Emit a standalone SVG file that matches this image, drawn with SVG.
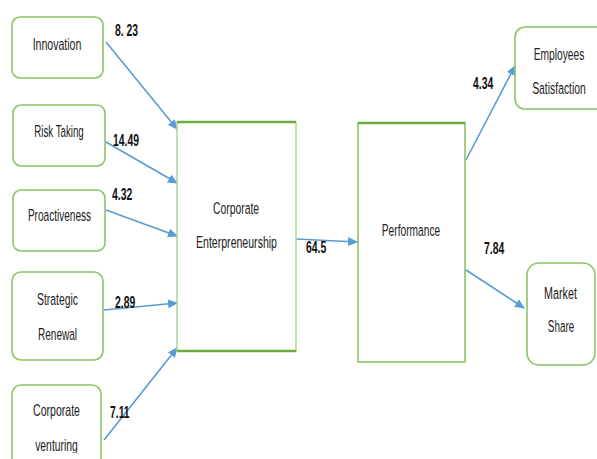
<svg xmlns="http://www.w3.org/2000/svg" width="597" height="459" viewBox="0 0 597 459">
  <style>
    .box { fill: #ffffff; stroke: #8cc466; stroke-width: 1.6; }
    .big { fill: #ffffff; stroke: #a8d48a; stroke-width: 1.4; }
    .top { stroke: #6aae3e; stroke-width: 2.6; fill: none; }
    .lbl { font-family: "Liberation Sans", Arial, sans-serif; font-size: 16.5px; fill: #222222; text-anchor: middle; }
    .num { font-family: "Liberation Sans", Arial, sans-serif; font-size: 16px; font-weight: bold; fill: #111111; }
    .edge { stroke: #5b9bd5; stroke-width: 1.6; fill: none; marker-end: url(#arrow); }
  </style>
  <defs>
    <marker id="arrow" markerUnits="userSpaceOnUse" markerWidth="10" markerHeight="10" refX="9" refY="5" orient="auto">
      <path d="M0,0.5 L10,5 L0,9.5 Z" fill="#5b9bd5"/>
    </marker>
    <clipPath id="cutBottom">
      <rect x="-100" y="-20" width="200" height="22"/>
    </clipPath>
  </defs>
  <rect width="597" height="459" fill="#ffffff"/>

  <g id="connectors">
    <line class="edge" x1="106" y1="42" x2="177" y2="129"/>
    <line class="edge" x1="106" y1="142" x2="177" y2="183"/>
    <line class="edge" x1="106" y1="210" x2="177" y2="236"/>
    <line class="edge" x1="104" y1="310" x2="177" y2="303"/>
    <line class="edge" x1="104" y1="440" x2="177" y2="348"/>
    <line class="edge" x1="296" y1="239" x2="357" y2="242"/>
    <line class="edge" x1="466" y1="160" x2="515" y2="66"/>
    <line class="edge" x1="466" y1="270" x2="524" y2="308"/>
  </g>

  <!-- labels use a narrow horizontal scale to get a condensed face -->
  <g id="innovation">
    <rect class="box" x="12" y="17" width="91" height="61" rx="8"/>
    <text class="lbl" transform="translate(57,50) scale(0.64,1)">Innovation</text>
  </g>
  <g id="risk-taking">
    <rect class="box" x="13" y="105" width="92" height="61" rx="8"/>
    <text class="lbl" transform="translate(59,137) scale(0.59,1)">Risk Taking</text>
  </g>
  <g id="proactiveness">
    <rect class="box" x="13" y="190" width="92" height="61" rx="8"/>
    <text class="lbl" transform="translate(59.5,221) scale(0.61,1)">Proactiveness</text>
  </g>
  <g id="strategic-renewal">
    <rect class="box" x="12" y="272" width="91" height="88" rx="9"/>
    <text class="lbl" transform="translate(57.5,305) scale(0.63,1)">Strategic</text>
    <text class="lbl" transform="translate(57.5,340) scale(0.61,1)">Renewal</text>
  </g>
  <g id="corporate-venturing">
    <rect class="box" x="12" y="385" width="89" height="90" rx="9"/>
    <text class="lbl" transform="translate(56.5,416) scale(0.64,1)">Corporate</text>
    <text class="lbl" transform="translate(56.5,451) scale(0.63,1)" clip-path="url(#cutBottom)">venturing</text>
  </g>

  <g id="corporate-entrepreneurship">
    <rect class="big" x="177" y="122" width="119" height="229"/>
    <line class="top" x1="177" y1="122" x2="296" y2="122"/>
    <line class="top" x1="177" y1="351" x2="296" y2="351"/>
    <text class="lbl" transform="translate(236,214) scale(0.63,1)">Corporate</text>
    <text class="lbl" transform="translate(236.5,248) scale(0.64,1)">Enterpreneurship</text>
  </g>
  <g id="performance">
    <rect class="box" x="358" y="123" width="107" height="239"/>
    <line class="top" x1="358" y1="123" x2="465" y2="123"/>
    <text class="lbl" transform="translate(411,236) scale(0.62,1)">Performance</text>
  </g>
  <g id="employees-satisfaction">
    <rect class="box" x="515" y="27" width="100" height="82" rx="10"/>
    <text class="lbl" transform="translate(559,60) scale(0.62,1)">Employees</text>
    <text class="lbl" transform="translate(559,94) scale(0.63,1)">Satisfaction</text>
  </g>
  <g id="market-share">
    <rect class="box" x="527" y="263" width="68" height="102" rx="12"/>
    <text class="lbl" transform="translate(560.5,299) scale(0.65,1)">Market</text>
    <text class="lbl" transform="translate(561,332) scale(0.6,1)">Share</text>
  </g>

  <g id="weights">
    <text class="num" transform="translate(115,36) scale(0.65,1)">8. 23</text>
    <text class="num" transform="translate(113,146) scale(0.65,1)">14.49</text>
    <text class="num" transform="translate(112,200) scale(0.65,1)">4.32</text>
    <text class="num" transform="translate(115,308) scale(0.65,1)">2.89</text>
    <text class="num" transform="translate(110,418) scale(0.65,1)">7.11</text>
    <text class="num" transform="translate(306,253) scale(0.65,1)">64.5</text>
    <text class="num" transform="translate(473,89) scale(0.65,1)">4.34</text>
    <text class="num" transform="translate(484,254) scale(0.65,1)">7.84</text>
  </g>
</svg>
